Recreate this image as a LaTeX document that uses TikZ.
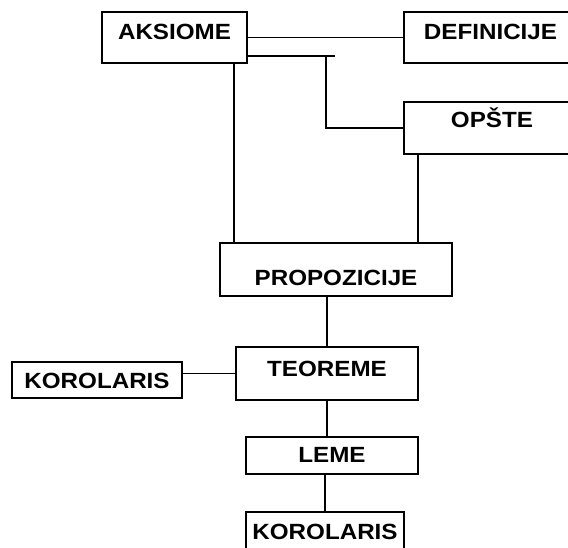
\documentclass[tikz,border=0pt]{standalone}
\usepackage{fontspec}
\newfontfamily\boxfont{Liberation Sans}[FakeStretch=1.1]
\usetikzlibrary{positioning}

\tikzset{
  box/.style={draw, line width=1.4pt, inner xsep=0pt, inner ysep=0pt, anchor=base,
    font=\boxfont\bfseries\fontsize{22}{24}\selectfont},
  link/.style={line width=1.4pt}
}

\begin{document}
\begin{tikzpicture}[x=1pt,y=-1pt]
    \useasboundingbox (0,0) rectangle (568,547);
    \clip (0,0) rectangle (568,547);

    % Boxes
    \node[box, minimum width=145pt, text height=27pt, text depth=24pt] (aks) at (174.5,39) {AKSIOME};
    \node[box, minimum width=173pt, text height=27pt, text depth=24pt] (def) at (490.5,39) {DEFINICIJE};
    \node[box, minimum width=176pt, text height=25pt, text depth=27pt] (op) at (492,127) {OPŠTE};
    \node[box, minimum width=232pt, text height=42pt, text depth=11pt] (prop) at (336,285) {PROPOZICIJE};
    \node[box, minimum width=182pt, text height=29pt, text depth=24pt] (teo) at (327,376) {TEOREME};
    \node[box, minimum width=170pt, text height=26pt, text depth=10pt] (kor1) at (97,388) {KOROLARIS};
    \node[box, minimum width=172pt, text height=25pt, text depth=12pt] (leme) at (332,462) {LEME};
    \node[box, minimum width=158pt, text height=27pt, text depth=21pt] (kor2) at (325,539) {KOROLARIS};

    % Connectors
    \coordinate (fork) at (326,56);
    \coordinate (stub) at (335,56);
    \draw[link] (aks.east) -- (def.west);
    \draw[link] (aks.east |- stub) -- (stub);
    \draw[link] (fork) |- (op.west);
    \draw[link] (aks.south -| 234,0) -- (prop.north -| 234,0);
    \draw[link] (418,0 |- op.south) -- (418,0 |- prop.north);
    \draw[link] (prop.south -| teo.north) -- (teo.north);
    \draw[link] (kor1.east |- teo.west) -- (teo.west);
    \draw[link] (teo.south) -- (teo.south |- leme.north);
    \draw[link] (kor2.north |- leme.south) -- (kor2.north);
\end{tikzpicture}
\end{document}
